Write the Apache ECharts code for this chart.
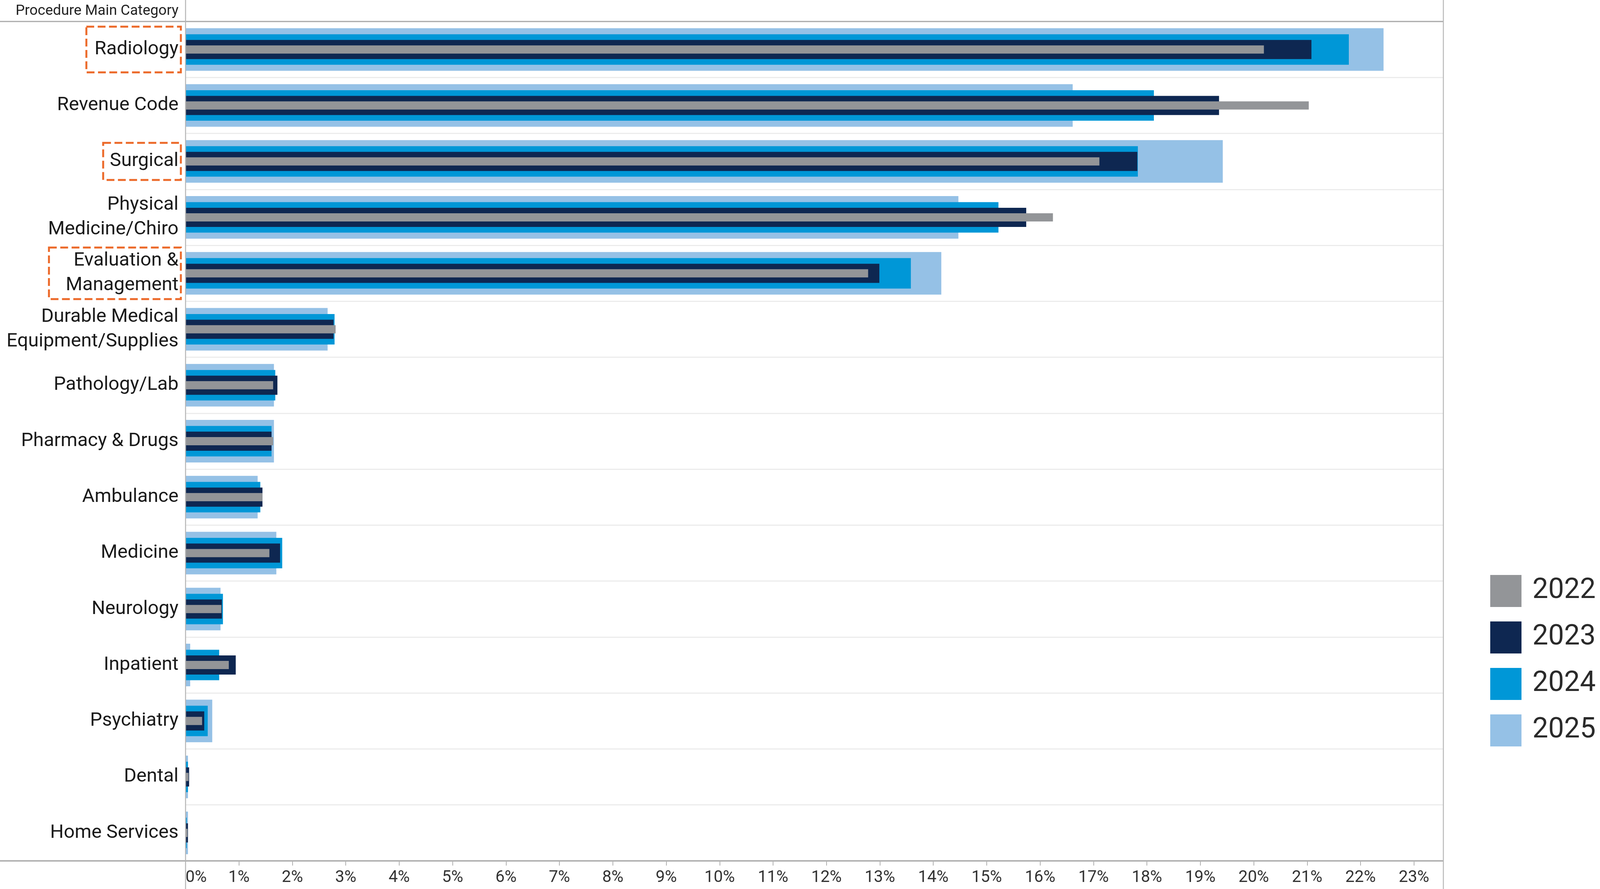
<!DOCTYPE html>
<html>
<head>
<meta charset="utf-8">
<title>Procedure Main Category</title>
<script src="https://cdn.jsdelivr.net/npm/echarts@6/dist/echarts.min.js"></script>
<style>
    html, body { margin: 0; padding: 0; background: #fff; }
    #chart { width: 4119px; height: 2276px; }
</style>
</head>
<body>
<div id="chart"></div>
<script>
// share of spend per procedure category, in percent
const categories = ['Radiology', 'Revenue Code', 'Surgical', 'Physical\nMedicine/Chiro', 'Evaluation &\nManagement',
    'Durable Medical\nEquipment/Supplies', 'Pathology/Lab', 'Pharmacy & Drugs', 'Ambulance', 'Medicine',
    'Neurology', 'Inpatient', 'Psychiatry', 'Dental', 'Home Services'];
const years = ['2022', '2023', '2024', '2025'];
const share2022 = [20.19, 21.03, 17.11, 16.24, 12.78, 2.81, 1.64, 1.64, 1.44, 1.57, 0.67, 0.81, 0.31, 0.057, 0.038];
const share2023 = [21.08, 19.35, 17.82, 15.74, 12.99, 2.77, 1.72, 1.61, 1.44, 1.77, 0.68, 0.94, 0.35, 0.067, 0.045];
const share2024 = [21.78, 18.13, 17.83, 15.22, 13.58, 2.79, 1.68, 1.61, 1.40, 1.81, 0.70, 0.63, 0.415, 0.045, 0.023];
const share2025 = [22.43, 16.61, 19.42, 14.47, 14.15, 2.66, 1.655, 1.655, 1.35, 1.70, 0.655, 0.087, 0.50, 0.045, 0.045];
const highlighted = ['Radiology', 'Surgical', 'Evaluation &\nManagement'];
const axisMin = 0, axisMax = 23.55, axisStep = 1;

const FONT = 'Roboto, "Noto Sans", sans-serif';
const W = 4119, H = 2276;
const gridLeft = 475, gridRight = 3695, gridTop = 55, gridBottom = 2204;

// hand drawn-ish dashed boxes round some labels
const boxPadding = {
    'Radiology': [27, 6, 27, 21],
    'Surgical': [16, 6, 16, 17],
    'Evaluation &\nManagement': [3, 6, 3, 43]
};

let labelItems = categories.map((c) => {
    if (highlighted.indexOf(c) < 0) return c;
    return {
        value: c,
        textStyle: {
            borderColor: '#ec6a2a',
            borderWidth: 5,
            borderType: [20, 9],
            padding: boxPadding[c]
        }
    };
});

// widest bar at the back, thinnest on top
let seriesDefs = [
    {name: '2025', data: share2025, color: '#95c1e6', width: 109},
    {name: '2024', data: share2024, color: '#0097d7', width: 78},
    {name: '2023', data: share2023, color: '#0e2751', width: 49},
    {name: '2022', data: share2022, color: '#939598', width: 21}
];

let yAxes = seriesDefs.map((s, i) => ({
    type: 'category',
    data: i === 0 ? labelItems : categories,
    inverse: true,
    show: i === 0,
    axisLine: {show: false},
    axisTick: {show: false},
    splitLine: {show: true, lineStyle: {color: '#ececec', width: 3}},
    axisLabel: {
        interval: 0,
        margin: 12,
        padding: [0, 6, 0, 0],
        fontFamily: FONT,
        fontSize: 49,
        lineHeight: 63,
        color: '#1a1a1a',
        align: 'right'
    }
}));

let series = seriesDefs.map((s, i) => ({
    type: 'bar',
    name: s.name,
    yAxisIndex: i,
    data: s.data,
    barWidth: s.width,
    z: 2 + i,
    itemStyle: {color: s.color}
}));

let myChart = echarts.init(document.getElementById('chart'));
let line = (x1, y1, x2, y2, color, w) => ({
    type: 'line',
    z: 20,
    shape: {x1: x1, y1: y1, x2: x2, y2: y2},
    style: {stroke: color, lineWidth: w}
});

let option = {
    backgroundColor: '#ffffff',
    animation: false,
    grid: {
        left: gridLeft,
        top: gridTop,
        width: gridRight - gridLeft,
        height: gridBottom - gridTop,
        containLabel: false,
        outerBoundsMode: 'none'
    },
    legend: {
        data: years,
        orient: 'vertical',
        left: 3815,
        top: 1472,
        padding: 0,
        icon: 'rect',
        itemWidth: 80,
        itemHeight: 82,
        itemGap: 37,
        selectedMode: false,
        textStyle: {
            fontFamily: FONT,
            fontSize: 72,
            lineHeight: 82,
            color: '#2a2a2a',
            padding: [0, 0, 0, 23]
        }
    },
    xAxis: {
        type: 'value',
        min: axisMin,
        max: axisMax,
        interval: axisStep,
        axisLine: {show: false},
        splitLine: {show: false},
        axisTick: {show: true, length: 12, lineStyle: {color: '#b0b0b0', width: 2}},
        axisLabel: {
            formatter: '{value}%',
            showMaxLabel: false,
            alignMinLabel: 'left',
            margin: 22,
            fontFamily: FONT,
            fontSize: 42,
            color: '#333333'
        }
    },
    yAxis: yAxes,
    series: series,
    graphic: [
        line(0, gridTop, gridRight, gridTop, '#a9a9a9', 3),
        line(0, gridBottom, gridRight, gridBottom, '#b3b3b3', 4),
        line(gridLeft, 0, gridLeft, H, '#b5b5b5', 2.5),
        line(gridRight, 0, gridRight, H, '#b8b8b8', 2.5),
        {
            type: 'text',
            z: 20,
            x: 457,
            y: 29,
            style: {
                text: 'Procedure Main Category',
                fill: '#222222',
                font: '37px ' + FONT,
                textAlign: 'right',
                textVerticalAlign: 'middle'
            }
        }
    ]
};
myChart.setOption(option);
</script>
</body>
</html>
